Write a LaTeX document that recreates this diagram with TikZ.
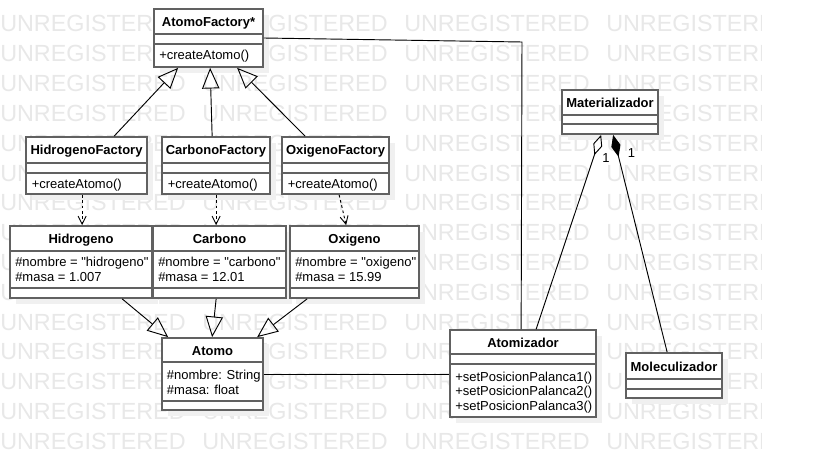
\documentclass[tikz,border=0pt]{standalone}
\usepackage{fontspec}
\setmainfont{Liberation Sans}[Ligatures=TeXOff]
\usepackage{tikz}
\usetikzlibrary{arrows.meta}
\usetikzlibrary{fit}
\usetikzlibrary{shadows}

\begin{document}
\begin{tikzpicture}[x=0.75pt, y=-0.75pt,
  every node/.style={font=\fontsize{9.75}{11}\selectfont, inner sep=0pt},
  classbox/.style={draw=black!62, line width=1.3pt, fill=white, inner sep=0pt,
    drop shadow={shadow xshift=4.5pt, shadow yshift=-4.5pt, fill=black!6, opacity=1}},
  classline/.style={draw=black!62, line width=1.3pt},
  classname/.style={font=\fontsize{9.75}{11}\selectfont\bfseries, anchor=base},
  member/.style={anchor=base west},
  connector/.style={draw=black, line width=0.7pt},
  extends/.style={connector, -{Triangle[open, length=15.5pt, width=13pt]}},
  uses/.style={connector, dash pattern=on 2pt off 2pt, -{Straight Barb[length=6pt, width=6pt]}},
  aggregation/.style={connector, -{Diamond[open, length=16pt, width=7pt]}},
  composition/.style={connector, -{Diamond[length=17pt, width=7pt]}},
  mult/.style={anchor=base},
  watermark/.style={font=\fontsize{17.5}{18}\selectfont, text=black!9, anchor=base west}
]

\useasboundingbox (0,0) rectangle (819,460);
\fill[white] (0,0) rectangle (819,460);

% watermark
\begin{scope}
\clip (0,0) rectangle (761,460);
\foreach \row in {0,...,14}
  \foreach \col in {0,...,3}
    \node[watermark] (wm-\row-\col) at (202*\col, 32+29.8*\row) {UNREGISTERED};
\end{scope}


% abstract factory
{
\node[classbox, fit={(154,9) (263,67)}] (factory) {};
\draw[classline] (154,34)--(263,34);
\draw[classline] (154,44)--(263,44);
\node[classname] (factoryname) at (208.5,27) {AtomoFactory*};
\node[member] (factoryop) at (159,60) {+createAtomo()};
}

% factories
{
\node[classbox, fit={(26,137) (147,194)}] (hfactory) {};
\draw[classline] (26,163)--(147,163);
\draw[classline] (26,173)--(147,173);
\node[classname] (hfactoryname) at (86.5,155) {HidrogenoFactory};
\node[member] (hfactoryop) at (31.5,188.5) {+createAtomo()};

\node[classbox, fit={(162,137) (270,194)}] (cfactory) {};
\draw[classline] (162,163)--(270,163);
\draw[classline] (162,173)--(270,173);
\node[classname] (cfactoryname) at (216,155) {CarbonoFactory};
\node[member] (cfactoryop) at (167.5,188.5) {+createAtomo()};

\node[classbox, fit={(282,137) (389,194)}] (ofactory) {};
\draw[classline] (282,163)--(389,163);
\draw[classline] (282,173)--(389,173);
\node[classname] (ofactoryname) at (335.5,155) {OxigenoFactory};
\node[member] (ofactoryop) at (287.5,188.5) {+createAtomo()};
}

% products
{
\node[classbox, fit={(10,226) (152,298)}] (hidrogeno) {};
\draw[classline] (10,251)--(152,251);
\draw[classline] (10,288)--(152,288);
\node[classname] (hidrogenoname) at (81,243.5) {Hidrogeno};
\node[member] (hidrogenoattr1) at (15,266.7) {\#nombre = "hidrogeno"};
\node[member] (hidrogenoattr2) at (15,281.7) {\#masa = 1.007};

\node[classbox, fit={(153,226) (286,298)}] (carbono) {};
\draw[classline] (153,251)--(286,251);
\draw[classline] (153,288)--(286,288);
\node[classname] (carbononame) at (219.5,243.5) {Carbono};
\node[member] (carbonoattr1) at (158,266.7) {\#nombre = "carbono"};
\node[member] (carbonoattr2) at (158,281.7) {\#masa = 12.01};

\node[classbox, fit={(290,226) (419,298)}] (oxigeno) {};
\draw[classline] (290,251)--(419,251);
\draw[classline] (290,288)--(419,288);
\node[classname] (oxigenoname) at (354.5,243.5) {Oxigeno};
\node[member] (oxigenoattr1) at (295,266.7) {\#nombre = "oxigeno"};
\node[member] (oxigenoattr2) at (295,281.7) {\#masa = 15.99};
}

% atomo
{
\node[classbox, fit={(162,338) (263,410)}] (atomo) {};
\draw[classline] (162,362)--(263,362);
\draw[classline] (162,401)--(263,401);
\node[classname] (atomoname) at (212.5,355) {Atomo};
\node[member] (atomoattr1) at (166.7,379) {\#nombre: String};
\node[member] (atomoattr2) at (166.7,394) {\#masa: float};
}

% machines
{
\node[classbox, fit={(450,330) (596,417)}] (atomizador) {};
\draw[classline] (450,354)--(596,354);
\draw[classline] (450,364)--(596,364);
\node[classname] (atomizadorname) at (523,347) {Atomizador};
\foreach \i/\yb in {1/381,2/395.5,3/410}
  \node[member] (atomizadorop\i) at (455,\yb) {+setPosicionPalanca\i()};

\node[classbox, fit={(562,90) (658,134)}] (materializador) {};
\draw[classline] (562,115)--(658,115);
\draw[classline] (562,124)--(658,124);
\node[classname] (materializadorname) at (610,107.5) {Materializador};

\node[classbox, fit={(626,353) (722,398)}] (moleculizador) {};
\draw[classline] (626,379)--(722,379);
\draw[classline] (626,389)--(722,389);
\node[classname] (moleculizadorname) at (674,371) {Moleculizador};
}


% generalization
\draw[extends] ([shift={(89,0)}]hfactory.north west) -- ([shift={(25,0)}]factory.south west);
\draw[extends] ([shift={(51,0)}]cfactory.north west) -- ([shift={(57,0)}]factory.south west);
\draw[extends] ([shift={(24,0)}]ofactory.north west) -- ([shift={(84,0)}]factory.south west);

\draw[extends] ([shift={(113,0)}]hidrogeno.south west) -- ([shift={(7,0)}]atomo.north west);
\draw[extends] ([shift={(64,0)}]carbono.south west) -- ([shift={(51,0)}]atomo.north west);
\draw[extends] ([shift={(18,0)}]oxigeno.south west) -- ([shift={(96,0)}]atomo.north west);

% dependencies
\draw[uses] ([shift={(57,0)}]hfactory.south west) -- ([shift={(73,0)}]hidrogeno.north west);
\draw[uses] ([shift={(55,0)}]cfactory.south west) -- ([shift={(64,0)}]carbono.north west);
\draw[uses] ([shift={(58,0)}]ofactory.south west) -- ([shift={(57,0)}]oxigeno.north west);

% associations
\coordinate (bend) at (522,42);
\draw[connector] (factory.east) -- (bend) -- ([shift={(72,0)}]atomizador.north west);
\draw[connector] (atomo.east) -- (atomo.east -| atomizador.west);

\draw[aggregation] ([shift={(87,0)}]atomizador.north west) -- ([shift={(40,0)}]materializador.south west);
\draw[composition] ([shift={(42,0)}]moleculizador.north west) -- ([shift={(52,0)}]materializador.south west);

\node[mult] (aggmult) at (606,163) {1};
\node[mult] (compmult) at (631.5,157.3) {1};

\end{tikzpicture}
\end{document}
